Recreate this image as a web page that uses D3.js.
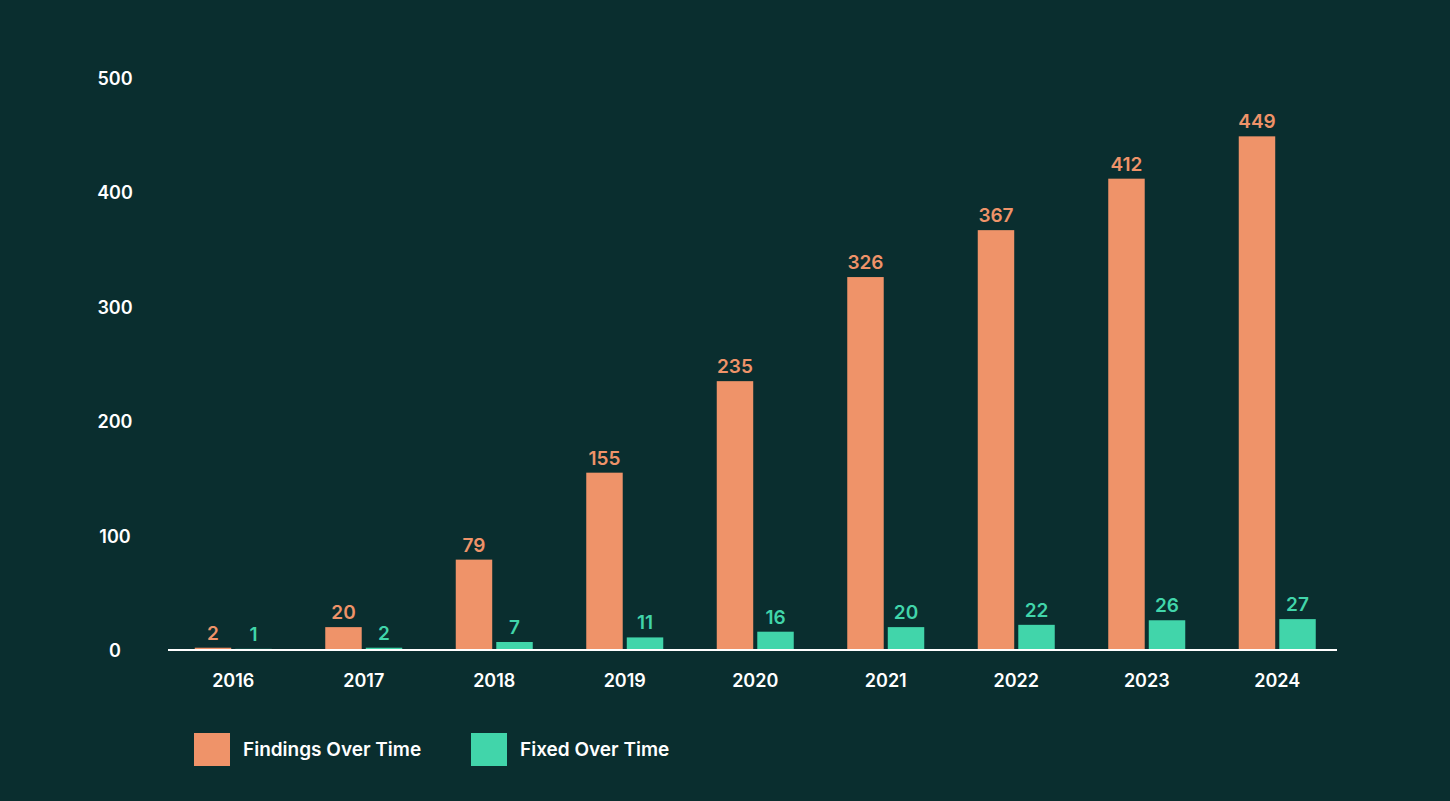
<!DOCTYPE html>
<html>
<head>
<meta charset="utf-8">
<script src="https://cdn.jsdelivr.net/npm/d3@7"></script>
<style>
  html, body { margin: 0; padding: 0; background: #0a2e2f; }
  svg { display: block; }
  text { font-family: Inter, "Open Sans", sans-serif; }
</style>
</head>
<body>
<svg id="chart" width="1450" height="801"></svg>
<script>
const years = ["2016", "2017", "2018", "2019", "2020", "2021", "2022", "2023", "2024"];
const findingsOverTime = [2, 20, 79, 155, 235, 326, 367, 412, 449];
const fixedOverTime = [1, 2, 7, 11, 16, 20, 22, 26, 27];
const yTicks = [0, 100, 200, 300, 400, 500];
const seriesNames = ["Findings Over Time", "Fixed Over Time"];
const seriesColors = ["#ef9369", "#41d5aa"];

const svg = d3.select("#chart");
const W = 1450, H = 801;
svg.append("rect").attr("width", W).attr("height", H).attr("fill", "#0a2e2f");

const margin = { left: 168, top: 78, bottom: 151 };
const x0 = d3.scaleBand().domain(years).range([margin.left, 1342.5]).paddingInner(0).paddingOuter(0);
const x1 = d3.scaleBand().domain(seriesNames).range([0, 77]).paddingInner(0.1);
const groupOffset = (x0.bandwidth() - 77) / 2;
const y = d3.scaleLinear().domain([0, 500]).range([H - margin.bottom, margin.top]);

const series = [findingsOverTime, fixedOverTime];

// y tick labels
svg.append("g").selectAll("text").data(yTicks).join("text")
  .attr("x", 115).attr("y", d => y(d) + 7)
  .attr("text-anchor", "middle")
  .attr("fill", "#ffffff").attr("font-size", 18).attr("font-weight", 600)
  .text(d => d);

// bars
series.forEach((vals, si) => {
  const g = svg.append("g");
  g.selectAll("rect").data(vals).join("rect")
    .attr("x", (d, i) => x0(years[i]) + groupOffset + x1(seriesNames[si]))
    .attr("y", d => y(d))
    .attr("width", x1.bandwidth())
    .attr("height", d => y(0) - y(d))
    .attr("fill", seriesColors[si]);
  g.selectAll("text").data(vals).join("text")
    .attr("x", (d, i) => x0(years[i]) + groupOffset + x1(seriesNames[si]) + x1.bandwidth() / 2)
    .attr("y", d => y(d) - 8)
    .attr("text-anchor", "middle")
    .attr("fill", seriesColors[si]).attr("font-size", 19).attr("font-weight", 600)
    .text(d => d);
});

// x axis
const xAxis = svg.append("g").attr("transform", `translate(0,${y(0)})`)
  .call(d3.axisBottom(x0).tickSize(0).tickPadding(24));
xAxis.select(".domain").remove();
xAxis.append("line").attr("x1", 168).attr("x2", 1337).attr("y1", 0).attr("y2", 0)
  .attr("stroke", "#ffffff").attr("stroke-width", 2);
xAxis.selectAll("text").attr("fill", "#ffffff").attr("font-size", 18).attr("font-weight", 600)
  .attr("font-family", "Inter, 'Open Sans', sans-serif");

// legend
const legend = svg.append("g");
const legendX = [194, 471];
seriesNames.forEach((name, i) => {
  legend.append("rect").attr("x", legendX[i]).attr("y", 733).attr("width", 36).attr("height", 33)
    .attr("fill", seriesColors[i]);
  legend.append("text").attr("x", legendX[i] + 49).attr("y", 756)
    .attr("fill", "#ffffff").attr("font-size", 19).attr("font-weight", 600)
    .text(name);
});
</script>
</body>
</html>
